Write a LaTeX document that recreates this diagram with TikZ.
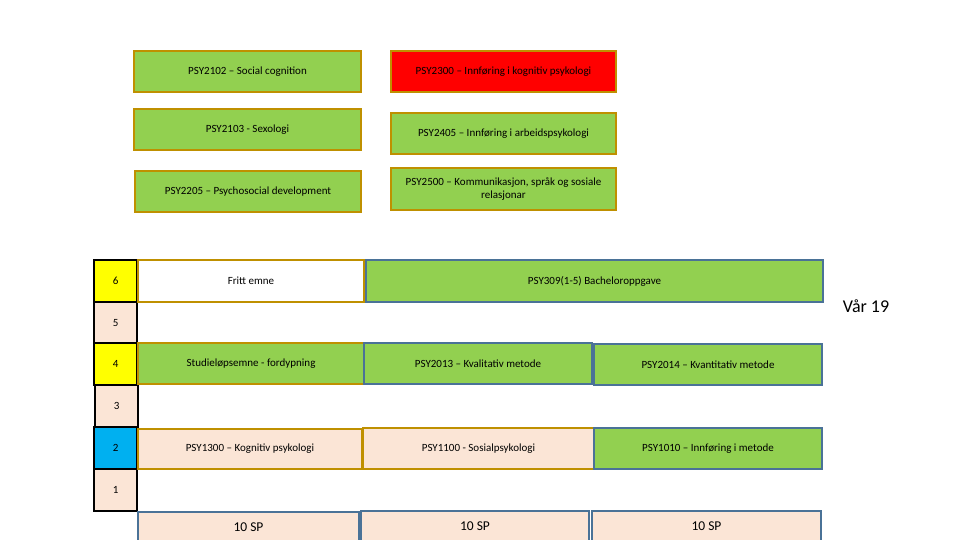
\documentclass[tikz,border=0pt]{standalone}
\usepackage{fontspec}
\setmainfont{Carlito}
\definecolor{cgreen}{HTML}{92D050}
\definecolor{cpeach}{HTML}{FBE5D6}
\definecolor{cgold}{HTML}{BF9000}
\definecolor{cblue}{HTML}{4A7297}
\definecolor{cyel}{HTML}{FFFF00}
\definecolor{ccyan}{HTML}{00B0F0}
\begin{document}
\begin{tikzpicture}[x=1pt,y=-1pt,
  box/.style={draw, line width=2pt, anchor=north west, inner sep=1pt, align=center,
    font=\fontsize{11}{13}\selectfont},
  gbox/.style={box, fill=cgreen, draw=cgold},
  bbox/.style={box, fill=cgreen, draw=cblue},
  pbox/.style={box, fill=cpeach, draw=cgold},
  spbox/.style={box, fill=cpeach, draw=cblue, font=\fontsize{13.5}{15}\selectfont},
  numbox/.style={draw=black, line width=2.2pt, anchor=north west, minimum width=43pt, minimum height=42pt, inner sep=0pt, font=\fontsize{11}{12}\selectfont}
]
\useasboundingbox (0,0) rectangle (960,540);
% top elective boxes
\node[gbox, minimum width=227pt, minimum height=41pt] (s2102) at (133,50) {PSY2102 -- Social cognition};
\node[box, fill=red, draw=cgold, minimum width=225pt, minimum height=41pt] (s2300) at (390,50) {PSY2300 -- Innføring i kognitiv psykologi};
\node[gbox, minimum width=227pt, minimum height=41pt] (s2103) at (133,108) {PSY2103 - Sexologi};
\node[gbox, minimum width=225pt, minimum height=41pt] (s2405) at (390,112) {PSY2405 -- Innføring i arbeidspsykologi};
\node[gbox, minimum width=226pt, minimum height=41pt] (s2205) at (134,170) {PSY2205 -- Psychosocial development};
\node[gbox, minimum width=225pt, minimum height=42pt] (s2500) at (390,167) {PSY2500 -- Kommunikasjon, språk og sosiale\\relasjonar};
% semester numbers
\node[numbox, fill=cpeach] (n5) at (93,301) {5};
\node[numbox, fill=cpeach] (n3) at (94,384) {3};
\node[numbox, fill=cpeach] (n1) at (93,468) {1};
\node[numbox, fill=cyel] (n6) at (93,259) {6};
\node[numbox, fill=cyel] (n4) at (93,342) {4};
\node[numbox, fill=ccyan] (n2) at (93,426) {2};
% semester 6
\node[box, fill=white, draw=cgold, minimum width=226pt, minimum height=42pt] (fritt) at (137,259) {Fritt emne};
\node[bbox, minimum width=457pt, minimum height=42pt] (bach) at (365,259) {PSY309(1-5) Bacheloroppgave};
% semester 4
\node[gbox, minimum width=226pt, minimum height=41pt] (stud) at (137,342) {Studieløpsemne - fordypning};
\node[bbox, minimum width=228pt, minimum height=41pt] (s2013) at (363,342) {PSY2013 -- Kvalitativ metode};
\node[bbox, minimum width=228pt, minimum height=41pt] (s2014) at (593,343) {PSY2014 -- Kvantitativ metode};
% semester 2
\node[pbox, minimum width=224pt, minimum height=40pt] (s1300) at (137,428) {PSY1300 -- Kognitiv psykologi};
\node[pbox, minimum width=231pt, minimum height=41pt] (s1100) at (362,427) {PSY1100 - Sosialpsykologi};
\node[bbox, minimum width=228pt, minimum height=41pt] (s1010) at (593,427) {PSY1010 -- Innføring i metode};
% SP row
\node[spbox, minimum width=221pt, minimum height=31pt] (sp1) at (137,511) {10 SP};
\node[spbox, minimum width=228pt, minimum height=31pt] (sp2) at (360,510) {10 SP};
\node[spbox, minimum width=229pt, minimum height=31pt] (sp3) at (591,510) {10 SP};
% label
\node[font=\fontsize{18}{20}\selectfont] (var) at (866,306) {Vår 19};
\end{tikzpicture}
\end{document}
